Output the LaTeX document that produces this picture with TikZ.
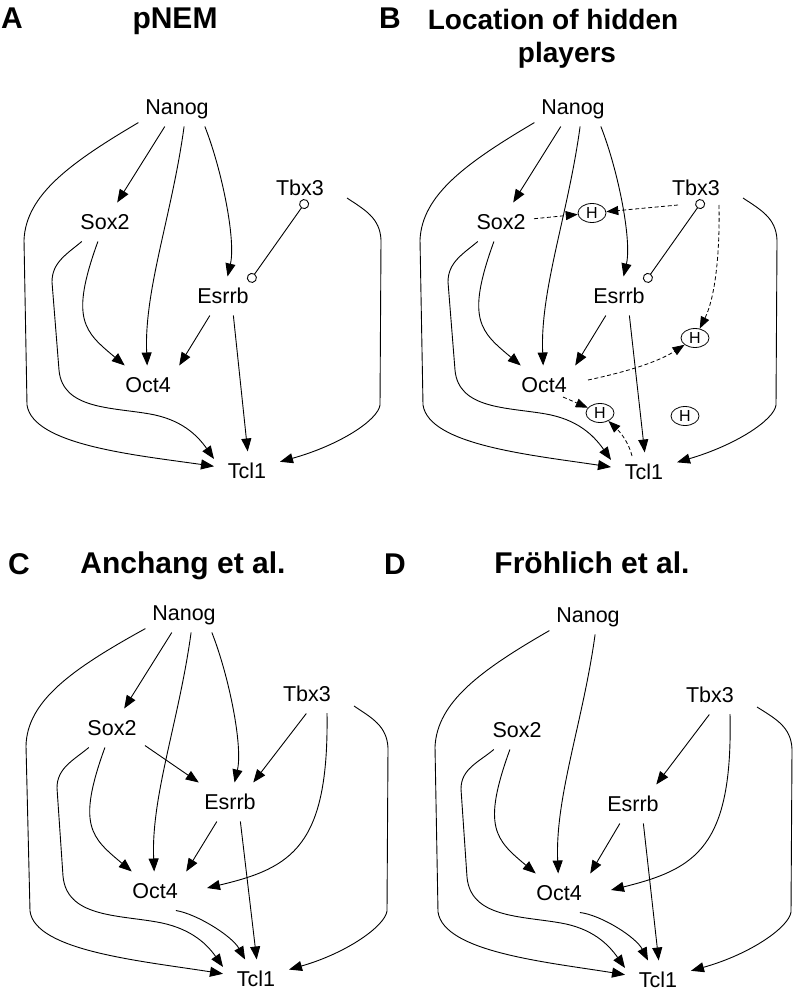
\documentclass[tikz,border=0pt]{standalone}
\usepackage{fontspec}
\setmainfont{Liberation Sans}
\usetikzlibrary{arrows.meta,shapes.geometric}

\tikzset{
  gene/.style={font=\fontsize{21.5}{24}\selectfont, inner xsep=4pt, inner ysep=4pt,
    outer xsep=3pt, outer ysep=8pt, text height=15pt, text depth=0pt, minimum width=60pt},
  hid/.style={draw, ellipse, line width=0.8pt, font=\fontsize{16}{18}\selectfont,
    inner sep=0pt, minimum width=28pt, minimum height=19pt, text height=11.5pt, text depth=0pt},
  link/.style={-{Triangle[length=13pt,width=10pt]}, line width=0.9pt},
  hlink/.style={-{Triangle[length=12pt,width=9pt]}, line width=0.8pt, dash pattern=on 4pt off 2.5pt},
  inhib/.style={{Circle[open,length=10pt]}-{Circle[open,length=10pt]}, line width=0.9pt},
  letter/.style={font=\bfseries\fontsize{30}{34}\selectfont, text height=21.5pt, text depth=0pt, inner sep=0pt},
  title/.style={font=\bfseries\fontsize{30}{34}\selectfont, text height=21.5pt, text depth=0pt, inner sep=0pt},
}

\begin{document}
\begin{tikzpicture}[x=1pt, y=1pt]
  \useasboundingbox (0,0) rectangle (794,-992);

  % panel headings
  \node[letter] (la) at (12,-18) {A};
  \node[title] (ta) at (175,-18) {pNEM};
  \node[letter] (lb) at (390,-18) {B};
  \node[title, font=\bfseries\fontsize{28}{32}\selectfont, text height=20pt] (tb) at (553,-20) {Location of hidden};
  \node[title, font=\bfseries\fontsize{28}{32}\selectfont, text height=20pt] (tb2) at (567,-53) {players};
  \node[letter] (lc) at (19,-564) {C};
  \node[title] (tc) at (183,-563) {Anchang et al.};
  \node[letter] (ld) at (395,-564) {D};
  \node[title] (td) at (592,-563) {Fröhlich et al.};

  % A: pNEM
  \begin{scope}[name prefix=A-]
    \node[gene] (nanog) at (177,-107) {Nanog};
    \node[gene] (sox) at (105,-222) {Sox2};
    \node[gene] (tbx) at (300,-188) {Tbx3};
    \node[gene] (esrrb) at (223,-296) {Esrrb};
    \node[gene] (oct) at (148,-385) {Oct4};
    \node[gene] (tcl) at (247,-471) {Tcl1};
    \draw[link] (nanog.-158) .. controls (70,-163) and (26,-195) .. (24,-240) -- (27,-405)
      .. controls (33,-445) and (135,-455) .. (tcl);
    \draw[link] (nanog) -- (sox);
    \draw[link] (nanog.-70) .. controls (172,-215) and (144,-290) .. (oct);
    \draw[link] (nanog.-35) .. controls (222,-170) and (236,-240) .. (esrrb);
    \draw[link] (sox) to[out=-110,in=140,looseness=1.4] (oct);
    \draw[link] (sox.-140) to[out=-140,in=90] (52,-282) -- (59,-370)
      to[out=-85,in=170] (150,-414) to[out=-10,in=125] (tcl.160);
    \draw[link] (esrrb.-124) -- (oct.32);
    \draw[link] (esrrb.-62) -- (tcl.88);
    \draw[link] ([shift={(47,-10)}]tbx.center) .. controls (365,-210) and (380,-218) .. (381,-240)
      -- (380,-405) .. controls (378,-420) and (340,-445) .. (tcl);
    \draw[inhib] ([shift={(7,-12)}]tbx.center) -- ([shift={(26,14)}]esrrb.center);
  \end{scope}

  % B: hidden players
  \begin{scope}[shift={(396,0)}, name prefix=B-]
    \node[gene] (nanog) at (177,-107) {Nanog};
    \node[gene] (sox) at (105,-222) {Sox2};
    \node[gene] (tbx) at (300,-188) {Tbx3};
    \node[gene] (esrrb) at (223,-296) {Esrrb};
    \node[gene] (oct) at (148,-385) {Oct4};
    \node[gene] (tcl) at (248,-472) {Tcl1};
    \node[hid] (h1) at (196,-213) {H};
    \node[hid] (h2) at (299,-338) {H};
    \node[hid] (h3) at (204,-413) {H};
    \node[hid] (h4) at (289,-416) {H};
    \draw[link] (nanog.-158) .. controls (70,-163) and (26,-195) .. (24,-240) -- (27,-405)
      .. controls (33,-445) and (135,-455) .. (tcl);
    \draw[link] (nanog) -- (sox);
    \draw[link] (nanog.-70) .. controls (172,-215) and (144,-290) .. (oct);
    \draw[link] (nanog.-35) .. controls (222,-170) and (236,-240) .. (esrrb);
    \draw[link] (sox) to[out=-110,in=140,looseness=1.4] (oct);
    \draw[link] (sox.-140) to[out=-140,in=90] (52,-282) -- (59,-370)
      to[out=-85,in=170] (150,-414) to[out=-10,in=125] (tcl.160);
    \draw[link] (esrrb.-124) -- (oct.32);
    \draw[link] (esrrb.-62) -- (tcl.88);
    \draw[link] ([shift={(47,-10)}]tbx.center) .. controls (365,-210) and (380,-218) .. (381,-240)
      -- (380,-405) .. controls (378,-420) and (340,-445) .. (tcl);
    \draw[inhib] ([shift={(7,-12)}]tbx.center) -- ([shift={(26,14)}]esrrb.center);
    \draw[hlink] (sox) -- (h1);
    \draw[hlink] ([shift={(-18,-17)}]tbx.center) -- (h1);
    \draw[hlink] ([shift={(23,-17)}]tbx.center) .. controls (324,-260) and (318,-300) .. (h2);
    \draw[hlink] ([shift={(44,5)}]oct.center) .. controls (230,-372) and (262,-362) .. (h2);
    \draw[hlink] ([shift={(19,-12)}]oct.center) -- (h3);
    \draw[hlink] ([shift={(-12,16)}]tcl.center) .. controls (232,-440) and (222,-430) .. (h3);
  \end{scope}

  % C: Anchang et al.
  \begin{scope}[shift={(7,-506)}, name prefix=C-]
    \node[gene] (nanog) at (177,-107) {Nanog};
    \node[gene] (sox) at (105,-222) {Sox2};
    \node[gene] (tbx) at (300,-188) {Tbx3};
    \node[gene] (esrrb) at (223,-296) {Esrrb};
    \node[gene] (oct) at (148,-385) {Oct4};
    \node[gene] (tcl) at (249,-473) {Tcl1};
    \draw[link] (nanog.-158) .. controls (65,-163) and (20,-195) .. (19,-240) -- (23,-405)
      .. controls (28,-445) and (135,-455) .. (tcl);
    \draw[link] (nanog) -- (sox);
    \draw[link] (nanog.-70) .. controls (172,-215) and (144,-290) .. (oct);
    \draw[link] (nanog.-35) .. controls (222,-170) and (236,-240) .. (esrrb);
    \draw[link] (sox.-28) -- (esrrb.148);
    \draw[link] (tbx.-92) -- (esrrb.40);
    \draw[link] ([shift={(20,-19)}]tbx.center) .. controls (322,-340) and (285,-362) .. ([shift={(52,3)}]oct.center);
    \draw[link] (sox) to[out=-110,in=140,looseness=1.4] (oct);
    \draw[link] (sox.-140) to[out=-140,in=90] (50,-282) -- (56,-370)
      to[out=-85,in=170] (150,-416) to[out=-10,in=125] (tcl.160);
    \draw[link] (esrrb.-124) -- (oct.32);
    \draw[link] (esrrb.-62) -- (tcl.88);
    \draw[link] (oct.-43) .. controls (190,-408) and (225,-430) .. (tcl);
    \draw[link] ([shift={(47,-12)}]tbx.center) .. controls (365,-212) and (380,-220) .. (381,-242)
      -- (380,-405) .. controls (378,-420) and (340,-447) .. (tcl);
  \end{scope}

  % D: Froehlich et al.
  \begin{scope}[shift={(411,-507)}, name prefix=D-]
    \node[gene] (nanog) at (177,-108) {Nanog};
    \node[gene] (sox) at (106,-223) {Sox2};
    \node[gene] (tbx) at (299,-188) {Tbx3};
    \node[gene] (esrrb) at (222,-297) {Esrrb};
    \node[gene] (oct) at (148,-386) {Oct4};
    \node[gene] (tcl) at (247,-473) {Tcl1};
    \draw[link] (nanog.-158) .. controls (70,-163) and (26,-195) .. (24,-240) -- (27,-405)
      .. controls (33,-445) and (135,-455) .. (tcl);
    \draw[link] (nanog.-70) .. controls (172,-215) and (144,-290) .. (oct);
    \draw[link] (tbx.-92) -- (esrrb.40);
    \draw[link] ([shift={(20,-19)}]tbx.center) .. controls (322,-340) and (285,-362) .. ([shift={(52,3)}]oct.center);
    \draw[link] (sox) to[out=-110,in=140,looseness=1.4] (oct);
    \draw[link] (sox.-140) to[out=-140,in=90] (50,-282) -- (56,-370)
      to[out=-85,in=170] (150,-416) to[out=-10,in=125] (tcl.160);
    \draw[link] (esrrb.-124) -- (oct.32);
    \draw[link] (esrrb.-62) -- (tcl.88);
    \draw[link] (oct.-43) .. controls (190,-408) and (225,-430) .. (tcl);
    \draw[link] ([shift={(47,-12)}]tbx.center) .. controls (365,-212) and (380,-220) .. (381,-242)
      -- (380,-405) .. controls (378,-420) and (340,-447) .. (tcl);
  \end{scope}
\end{tikzpicture}
\end{document}
